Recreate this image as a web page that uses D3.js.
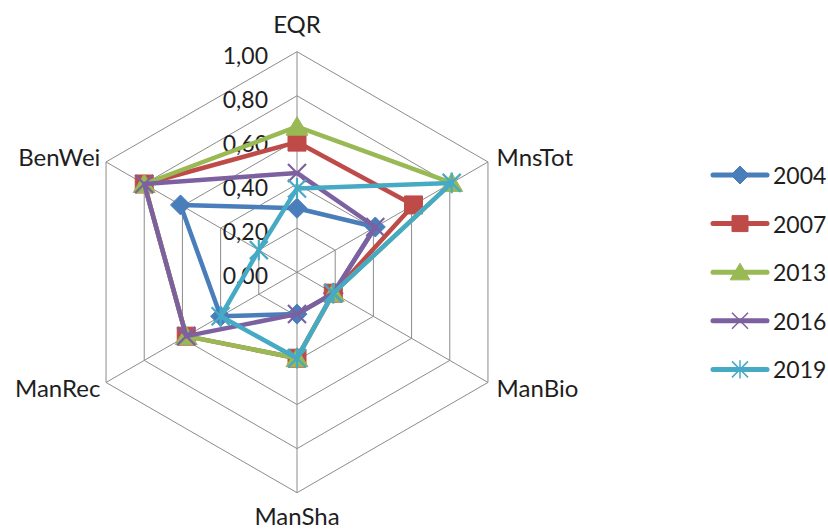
<!DOCTYPE html>
<html>
<head>
<meta charset="utf-8">
<script src="https://cdn.jsdelivr.net/npm/d3@7"></script>
<style>
  html, body { margin: 0; padding: 0; background: #fff; }
  svg { display: block; }
  text { font-family: Lato, "Open Sans", "DejaVu Sans", sans-serif; fill: #1e1e1e; }
</style>
</head>
<body>
<svg id="chart" width="828" height="530"></svg>
<script>
// Radar axes, clockwise from the top
const axes = ["EQR", "MnsTot", "ManBio", "ManSha", "ManRec", "BenWei"];

// Series values, in axis order
const years = ["2004", "2007", "2013", "2016", "2019"];
const v2004 = [0.29, 0.41, 0.19, 0.19, 0.40, 0.61];
const v2007 = [0.59, 0.61, 0.19, 0.39, 0.58, 0.80];
const v2013 = [0.66, 0.81, 0.19, 0.39, 0.58, 0.80];
const v2016 = [0.45, 0.41, 0.19, 0.19, 0.58, 0.80];
const v2019 = [0.38, 0.81, 0.19, 0.39, 0.40, 0.20];

// Radial tick values
const ticks = [0, 0.2, 0.4, 0.6, 0.8, 1.0];

const seriesValues = [v2004, v2007, v2013, v2016, v2019];
const colors = ["#4a7ebb", "#be4b48", "#98b954", "#7d60a0", "#46aac5"];
const markers = ["diamond", "square", "triangle", "times", "asterisk"];

const svg = d3.select("#chart");
const cx = 297, cy = 272.2, R = 220.5;

const r = d3.scaleLinear().domain([0, 1]).range([0, R]);
const angle = d3.scaleLinear().domain([0, axes.length]).range([0, 2 * Math.PI]);

const pt = (i, v) => {
  const a = angle(i);
  return [r(v) * Math.sin(a), -r(v) * Math.cos(a)];
};

const g = svg.append("g").attr("transform", `translate(${cx},${cy})`);

// Hexagonal grid rings
const ring = d3.line().curve(d3.curveLinearClosed);
g.append("g").selectAll("path")
  .data(ticks.filter(t => t > 0))
  .join("path")
  .attr("d", t => ring(axes.map((_, i) => pt(i, t))))
  .attr("fill", "none")
  .attr("stroke", "#8c8c8c")
  .attr("stroke-width", 1);

// Spokes
g.append("g").selectAll("line")
  .data(axes)
  .join("line")
  .attr("x1", 0).attr("y1", 0)
  .attr("x2", (_, i) => pt(i, 1)[0])
  .attr("y2", (_, i) => pt(i, 1)[1])
  .attr("stroke", "#8c8c8c")
  .attr("stroke-width", 1);

// Tick labels along the top axis
const fmt = d => d3.format(".2f")(d).replace(".", ",");
g.append("g").selectAll("text")
  .data(ticks)
  .join("text")
  .attr("x", -29)
  .attr("y", t => -r(t) + 3)
  .attr("text-anchor", "end")
  .attr("dominant-baseline", "central")
  .attr("font-size", 23)
  .text(fmt);

// Axis labels
g.append("g").selectAll("text")
  .data(axes)
  .join("text")
  .each(function (name, i) {
    const a = angle(i);
    const s = Math.sin(a), c = Math.cos(a);
    const pad = 10;
    const x = (R + pad) * s, y = -(R + pad) * c;
    const t = d3.select(this)
      .attr("font-size", 24)
      .attr("x", Math.abs(s) < 1e-6 ? x : (s > 0 ? x : x + 3))
      .attr("y", y)
      .text(name);
    if (Math.abs(s) < 1e-6) {
      t.attr("text-anchor", "middle").attr("dy", c > 0 ? -9 : 22);
    } else {
      t.attr("text-anchor", s > 0 ? "start" : "end").attr("dominant-baseline", "central");
    }
  });

// Marker shapes
function markerPath(type, size) {
  const h = size / 2;
  switch (type) {
    case "diamond": return `M0,${-h}L${h},0L0,${h}L${-h},0Z`;
    case "square": return `M${-h},${-h}H${h}V${h}H${-h}Z`;
    case "triangle": return `M0,${-h}L${h * 1.1},${h * 0.85}H${-h * 1.1}Z`;
    case "times": return `M${-h},${-h}L${h},${h}M${h},${-h}L${-h},${h}`;
    case "asterisk": return `M${-h},${-h}L${h},${h}M${h},${-h}L${-h},${h}M0,${-h * 1.15}V${h * 1.15}`;
  }
}
const filled = m => m === "diamond" || m === "square" || m === "triangle";
const msize = { diamond: 20, square: 18, triangle: 20, times: 18, asterisk: 18 };

// Series polygons and markers
const line = d3.line().curve(d3.curveLinearClosed);
seriesValues.forEach((vals, k) => {
  const sg = g.append("g");
  const pts = vals.map((v, i) => pt(i, v));
  sg.append("path")
    .attr("d", line(pts))
    .attr("fill", "none")
    .attr("stroke", colors[k])
    .attr("stroke-width", 4.5)
    .attr("stroke-linejoin", "round");
  sg.selectAll("path.m")
    .data(pts)
    .join("path")
    .attr("class", "m")
    .attr("transform", d => `translate(${d[0]},${d[1]})`)
    .attr("d", markerPath(markers[k], msize[markers[k]]))
    .attr("fill", filled(markers[k]) ? colors[k] : "none")
    .attr("stroke", colors[k])
    .attr("stroke-width", filled(markers[k]) ? 1 : 2.2);
});

// Legend
const legend = svg.append("g").attr("transform", "translate(713,175)");
const row = legend.selectAll("g")
  .data(years)
  .join("g")
  .attr("transform", (_, k) => `translate(0,${k * 48.6})`);
row.append("line")
  .attr("x1", 0).attr("x2", 54)
  .attr("y1", 0).attr("y2", 0)
  .attr("stroke", (_, k) => colors[k])
  .attr("stroke-width", 5)
  .attr("stroke-linecap", "round");
row.append("path")
  .attr("transform", "translate(27,0)")
  .attr("d", (_, k) => markerPath(markers[k], msize[markers[k]] - 2))
  .attr("fill", (_, k) => filled(markers[k]) ? colors[k] : "none")
  .attr("stroke", (_, k) => colors[k])
  .attr("stroke-width", (_, k) => filled(markers[k]) ? 1 : 1.5);
row.append("text")
  .attr("x", 60)
  .attr("y", 0)
  .attr("dominant-baseline", "central")
  .attr("font-size", 23)
  .text(d => d);
</script>
</body>
</html>
